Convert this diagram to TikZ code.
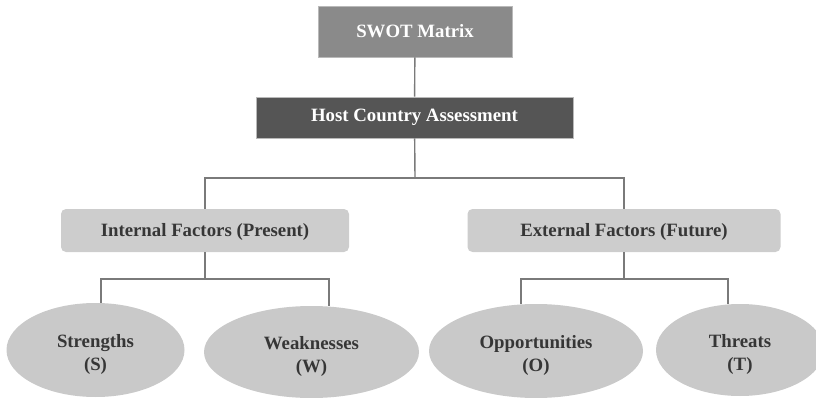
\documentclass[tikz,border=0pt]{standalone}
\usepackage{fontspec}
\setmainfont{Liberation Serif}
\usetikzlibrary{shapes.geometric}
\definecolor{swotgray}{HTML}{8A8A8A}
\definecolor{hostgray}{HTML}{555555}
\definecolor{factgray}{HTML}{CDCDCD}
\definecolor{ovalgray}{HTML}{C9C9C9}
\definecolor{linegray}{HTML}{7A7A7A}
\definecolor{textgray}{HTML}{363636}
\begin{document}
\begin{tikzpicture}[x=1pt, y=-1pt,
  head/.style={rectangle, draw=gray!55, line width=0.8pt, inner sep=0pt, text=white, font=\fontsize{18.8}{22}\selectfont\bfseries},
  fact/.style={rectangle, rounded corners=5pt, fill=factgray, inner sep=0pt, minimum height=43pt, text=textgray, text depth=2pt, font=\fontsize{18.8}{22}\selectfont\bfseries},
  oval/.style={ellipse, fill=ovalgray, inner sep=0pt, align=center, text=textgray, text height=44pt, font=\fontsize{18.8}{23}\selectfont\bfseries},
  link/.style={draw=linegray, line width=1.4pt}]
\useasboundingbox (0,0) rectangle (816,398);
\node[head, fill=swotgray, minimum width=194pt, minimum height=51pt] (swot) at (415,31.5){SWOT Matrix};
\node[head, fill=hostgray, minimum width=317pt, minimum height=41pt] (host) at (414.5,117.5){Host Country Assessment};
\coordinate (hj) at (415,178);
\draw[link](swot) -- (host);
\draw[link](host) -- (hj);
\node[fact, minimum width=288pt] (int) at (205,230.5){Internal Factors (Present)};
\node[fact, minimum width=313pt] (ext) at (624,230.5){External Factors (Future)};
\draw[link](int.north) |- (hj) -| (ext.north);
\node[oval, minimum width=178pt, minimum height=94pt] (str) at (95.5,350){Strengths\\(S)};
\node[oval, minimum width=215pt, minimum height=92pt] (weak) at (311.5,352){Weaknesses\\(W)};
\coordinate (ij) at (205,279);
\draw[link](int) -- (ij);
\draw[link]([xshift=5.5pt]str.north) |- (ij) -| ([xshift=17.5pt]weak.north);
\node[oval, minimum width=214pt, minimum height=94pt] (opp) at (536,351){Opportunities\\(O)};
\node[oval, minimum width=168pt, minimum height=92pt] (thr) at (740,350){Threats\\(T)};
\coordinate (ej) at (624,279);
\draw[link](ext) -- (ej);
\draw[link]([xshift=-15pt]opp.north) |- (ej) -| ([xshift=-12pt]thr.north);

\end{tikzpicture}
\end{document}
